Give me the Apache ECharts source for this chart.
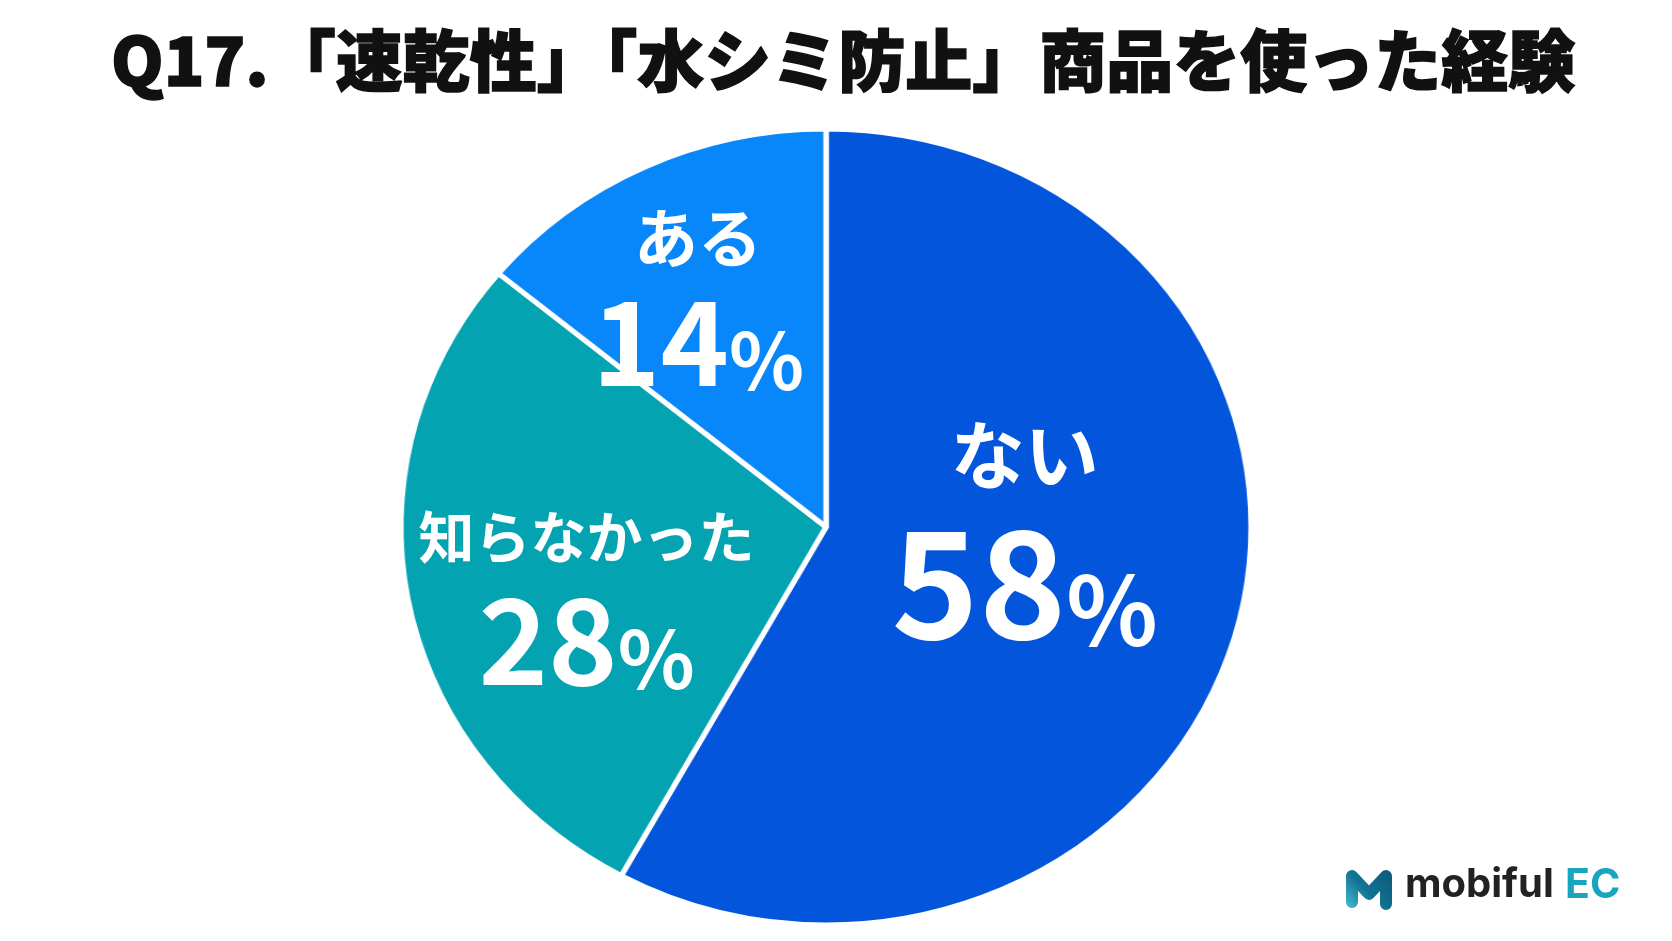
<!DOCTYPE html>
<html>
<head>
<meta charset="utf-8">
<script src="https://cdn.jsdelivr.net/npm/echarts@6/dist/echarts.min.js"></script>
<style>
html,body{margin:0;padding:0;background:#ffffff;}
#wrap{position:relative;width:1672px;height:941px;overflow:hidden;}
#pie{position:absolute;left:0;top:0;width:1672px;height:941px;transform-origin:826px 527px;transform:scale(1.068,1);}
#chart{position:absolute;left:0;top:0;width:1672px;height:941px;}
</style>
</head>
<body>
<div id="wrap"><div id="pie"></div><div id="chart"></div></div>
<script>
const titleText = 'Q17.「速乾性」「水シミ防止」商品を使った経験';
const categories = ['ない', '知らなかった', 'ある'];
const values = [58, 28, 14];
const colors = ['#0356DC', '#04A3B2', '#0887FA'];
const brandName = 'mobiful';
const brandSuffix = 'EC';

const FONT = '"Noto Sans CJK JP", "Noto Sans", sans-serif';
const CENTER = [826, 527];
const RADIUS = 398;

// per-slice label styling (sizes / nudges)
const labelStyles = [
  { name: 74, val: 148, pct: 95, nameLH: 108, pad: [0, 0, 96, 6] },
  { name: 56, val: 118, pct: 80, nameLH: 88, pad: [62, 82, 0, 0] },
  { name: 64, val: 116, pct: 78, nameLH: 92, pad: [0, 84, 97, 0] }
];

// slices (drawn in a horizontally stretched layer to match the oval pie)
const pieChart = echarts.init(document.getElementById('pie'), null, { renderer: 'canvas' });
pieChart.setOption({
  backgroundColor: '#ffffff',
  animation: false,
  series: [{
    type: 'pie',
    center: CENTER,
    radius: [0, RADIUS],
    startAngle: 90,
    clockwise: true,
    itemStyle: { borderColor: '#ffffff', borderWidth: 5 },
    label: { show: false },
    labelLine: { show: false },
    emphasis: { disabled: true },
    data: categories.map((c, i) => ({ name: c, value: values[i], itemStyle: { color: colors[i] } }))
  }]
});

// labels, title and logo
const labelData = categories.map((c, i) => {
  const s = labelStyles[i];
  return {
    name: c,
    value: values[i],
    itemStyle: { color: 'rgba(0,0,0,0)' },
    label: {
      padding: s.pad,
      rich: {
        n: { fontFamily: FONT, fontWeight: 'bold', fontSize: s.name, color: '#fff', lineHeight: s.nameLH, align: 'center' },
        v: { fontFamily: FONT, fontWeight: 'bold', fontSize: s.val, color: '#fff', lineHeight: s.val },
        p: { fontFamily: FONT, fontWeight: 'bold', fontSize: s.pct, color: '#fff', lineHeight: Math.round(s.val * 0.76), verticalAlign: 'bottom' }
      }
    }
  };
});

const chart = echarts.init(document.getElementById('chart'), null, { renderer: 'canvas' });
chart.setOption({
  backgroundColor: 'rgba(0,0,0,0)',
  animation: false,
  title: {
    text: titleText,
    left: 111,
    top: 27,
    padding: 0,
    textStyle: { fontFamily: FONT, fontWeight: 900, fontSize: 67, color: '#111111', textBorderColor: '#111111', textBorderWidth: 1.5 }
  },
  series: [{
    type: 'pie',
    center: CENTER,
    radius: [0, RADIUS],
    startAngle: 90,
    clockwise: true,
    silent: true,
    avoidLabelOverlap: false,
    itemStyle: { borderWidth: 0 },
    label: {
      show: true,
      position: 'inside',
      align: 'center',
      verticalAlign: 'middle',
      formatter: p => '{n|' + p.name + '}\n{v|' + p.value + '}{p|%}'
    },
    labelLine: { show: false },
    emphasis: { disabled: true },
    data: labelData
  }],
  graphic: [
    {
      type: 'polyline',
      shape: { points: [[1352, 902], [1352, 876], [1369, 894], [1386, 876], [1386, 904]] },
      style: {
        fill: null,
        lineWidth: 12,
        lineCap: 'round',
        lineJoin: 'round',
        stroke: new echarts.graphic.LinearGradient(0, 1, 1, 0, [
          { offset: 0, color: '#45C0D6' },
          { offset: 0.45, color: '#137394' },
          { offset: 1, color: '#0B5878' }
        ])
      }
    },
    {
      type: 'text',
      left: 1405,
      top: 865,
      style: { text: brandName, fontFamily: '"Inter", "Noto Sans", sans-serif', fontWeight: 'bold', fontSize: 40, fill: '#222222' }
    },
    {
      type: 'text',
      left: 1565,
      top: 865,
      style: { text: brandSuffix, fontFamily: '"Inter", "Noto Sans", sans-serif', fontWeight: 'bold', fontSize: 41, fill: '#1AA5BE' }
    }
  ]
});
</script>
</body>
</html>
